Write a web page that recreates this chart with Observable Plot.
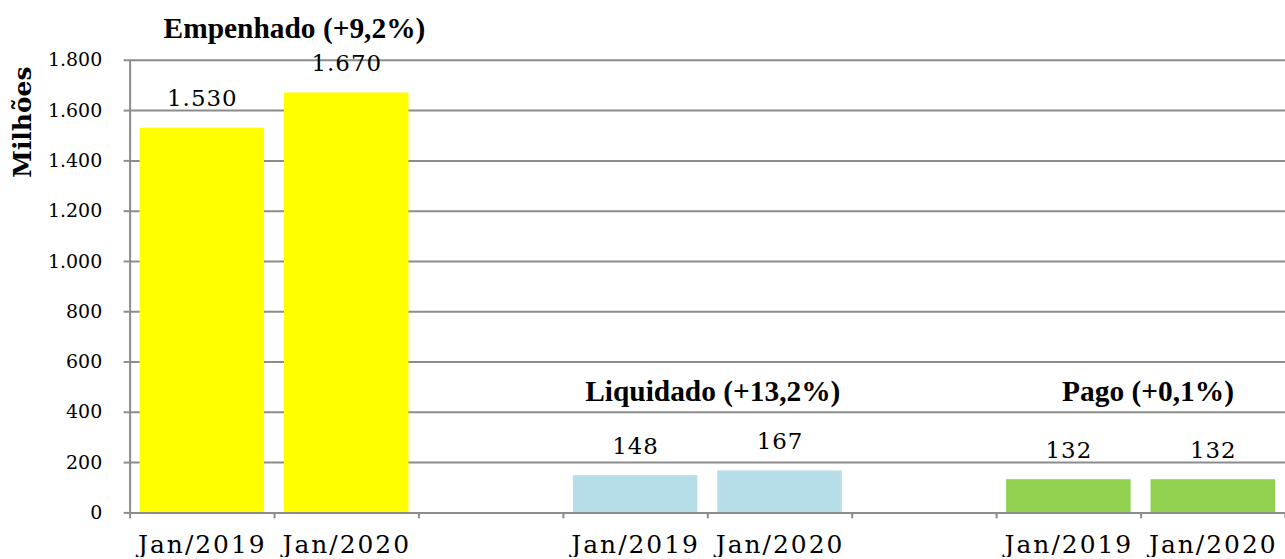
<!DOCTYPE html>
<html>
<head>
<meta charset="utf-8">
<script src="https://cdn.jsdelivr.net/npm/d3@7"></script>
<script src="https://cdn.jsdelivr.net/npm/@observablehq/plot@0.6"></script>
<style>
  html, body { margin: 0; padding: 0; background: #fff; overflow: hidden; }
  #chart { width: 1285px; height: 559px; overflow: hidden; }
</style>
</head>
<body>
<div id="chart"></div>
<script>
// ---- data ----
const groups = ["Empenhado", "Liquidado", "Pago"];
const changes = ["+9,2%", "+13,2%", "+0,1%"];
const periods = ["Jan/2019", "Jan/2020"];
const values2019 = [1530, 148, 132];
const values2020 = [1670, 167, 132];
const groupColors = ["#FFFF00", "#B7DDE8", "#92D050"];
const yTicks = [0, 200, 400, 600, 800, 1000, 1200, 1400, 1600, 1800];

// ---- layout (annotation placement, not data) ----
const slotsPerGroup = 3; // two bars + one empty slot
const nSlots = groups.length * slotsPerGroup - 1;
const titleLayout = [
  {y: 1890, dx: 20},
  {y: 445, dx: 5},
  {y: 445, dx: 7}
];

const fmt = d3.formatLocale({decimal: ",", thousands: ".", grouping: [3], currency: ["R$", ""]}).format(",d");

const bars = [];
groups.forEach((g, gi) => {
  [values2019, values2020].forEach((vals, pi) => {
    const x1 = gi * slotsPerGroup + pi;
    bars.push({group: g, period: periods[pi], value: vals[gi], x1, x2: x1 + 1, xc: x1 + 0.5, color: groupColors[gi]});
  });
});
const titles = groups.map((g, gi) => ({
  text: `${g} (${changes[gi]})`,
  x: gi * slotsPerGroup + 1,
  y: titleLayout[gi].y
}));
const labelTicks = bars.map(d => d.xc);
const labelText = new Map(bars.map(d => [d.xc, d.period]));
const boundaries = d3.range(0, nSlots + 1);

const gridColor = "#8c8c8c";
const serif = "DejaVu Serif";

const chart = Plot.plot({
  width: 1289,
  height: 559,
  marginLeft: 130,
  marginRight: 0,
  marginTop: 60,
  marginBottom: 45,
  style: {fontFamily: serif, background: "#fff", color: "#000"},
  x: {type: "linear", domain: [0, nSlots]},
  y: {domain: [0, 1800]},
  marks: [
    Plot.gridY(yTicks, {stroke: gridColor, strokeOpacity: 1, strokeWidth: 2}),
    Plot.rectY(bars, {x1: "x1", x2: "x2", y: "value", fill: "color", insetLeft: 10, insetRight: 10}),
    Plot.ruleY([0], {stroke: gridColor, strokeWidth: 2}),
    Plot.ruleX([0], {stroke: gridColor, strokeWidth: 2}),
    Plot.axisY({ticks: yTicks, tickSize: 6, tickPadding: 22, stroke: gridColor, strokeWidth: 2, tickFormat: fmt, fontSize: 19, fontFamily: serif, fill: "#000", label: null}),
    Plot.axisX({ticks: boundaries, tickSize: 6, stroke: gridColor, strokeWidth: 2, tickFormat: () => "", label: null}),
    Plot.axisX({ticks: labelTicks, tickSize: 0, tickPadding: 22, tickFormat: d => labelText.get(d), fontSize: 25, fontFamily: serif, fill: "#000", label: null}),
    Plot.text(bars, {x: "xc", y: "value", text: d => fmt(d.value), lineAnchor: "bottom", dy: -22, fontSize: 23, fontFamily: serif, fill: "#000"}),
    ...titles.map((t, i) => Plot.text([t], {x: "x", y: "y", dx: titleLayout[i].dx, text: "text", fontFamily: "Liberation Serif", fontWeight: "bold", fontSize: 29.5, fill: "#000", lineAnchor: "bottom"})),
    Plot.text(["Milhões"], {frameAnchor: "top-left", dx: -107, dy: 62, rotate: -90, textAnchor: "middle", fontFamily: serif, fontWeight: "bold", fontSize: 25, fill: "#000", lineAnchor: "middle"})
  ]
});
document.getElementById("chart").appendChild(chart);

// letter spacing to mimic the wider original typeface
const periodSet = new Set(periods);
const valueSet = new Set(bars.map(d => fmt(d.value)));
chart.querySelectorAll("text").forEach(t => {
  const s = t.textContent.trim();
  if (periodSet.has(s)) t.style.letterSpacing = "2px";
  else if (valueSet.has(s)) t.style.letterSpacing = "1px";
});
</script>
</body>
</html>
